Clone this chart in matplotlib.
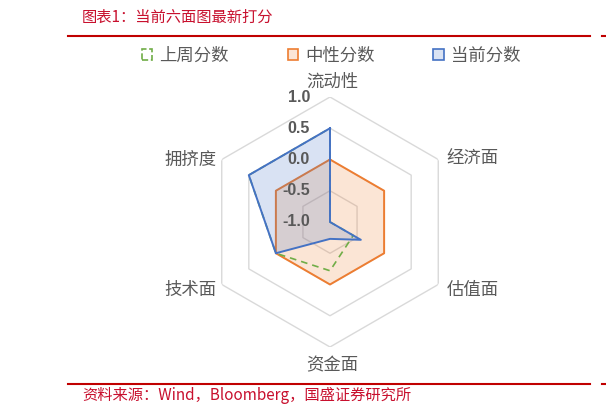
import numpy as np
import matplotlib
matplotlib.use('Agg')
import matplotlib.pyplot as plt
from matplotlib.patches import Patch
from matplotlib.lines import Line2D

plt.rcParams['font.family'] = ['Noto Sans CJK SC', 'DejaVu Sans']

# data
categories = ['流动性', '经济面', '估值面', '资金面', '技术面', '拥挤度']
last_week = [0.5, -1.0, -0.57, -0.22, 0.0, 0.5]
neutral = [0.0, 0.0, 0.0, 0.0, 0.0, 0.0]
current = [0.5, -1.0, -0.43, -0.73, 0.0, 0.5]
r_ticks = [-1.0, -0.5, 0.0, 0.5, 1.0]
series_names = ['上周分数', '中性分数', '当前分数']

W, H = 606, 416
fig = plt.figure(figsize=(W / 100, H / 100), dpi=100)

# polar axes: centre (330, 222) px, outer radius 125 px
cx, cy, rad = 330, 222, 125
ax = fig.add_axes([(cx - rad) / W, 1 - (cy + rad) / H, 2 * rad / W, 2 * rad / H],
                  projection='polar')
ax.set_theta_offset(np.pi / 2)
ax.set_theta_direction(-1)
ax.set_ylim(-1, 1)
ax.set_xticks([])
ax.set_yticks([])
ax.grid(False)
ax.spines['polar'].set_visible(False)
ax.patch.set_alpha(0)

n = len(categories)
ang = np.linspace(0, 2 * np.pi, n, endpoint=False)
ang_c = np.append(ang, ang[0])

def close(v):
    return np.append(v, v[0])

# hexagon grid
for t in r_ticks[1:]:
    ax.plot(ang_c, [t] * (n + 1), color='#D9D9D9', lw=1.0, zorder=1)

orange = '#ED7D31'
blue = '#4472C4'
green = '#70AD47'

ax.fill(ang_c, close(neutral), color=orange, alpha=0.2, lw=0, zorder=2)
ax.plot(ang_c, close(neutral), color=orange, lw=1.4, zorder=3)
ax.plot(ang_c, close(last_week), color=green, lw=1.2, ls=(0, (4, 3)), zorder=4)
ax.fill(ang_c, close(current), color=blue, alpha=0.2, lw=0, zorder=5)
ax.plot(ang_c, close(current), color=blue, lw=1.4, zorder=6)

# radial tick labels
for t in r_ticks:
    ax.annotate(f'{t:.1f}', xy=(0, t), xytext=(-20, 0), textcoords='offset pixels',
                ha='right', va='center', fontsize=11.5, fontweight='bold',
                family='Liberation Sans', color='#595959', zorder=7)

# category labels
offsets = [(2, 15, 'center'), (8, 1, 'left'), (8, -5, 'left'),
           (2, -18, 'center'), (-5, -5, 'right'), (-5, 0, 'right')]
for a, lab, (dx, dy, ha) in zip(ang, categories, offsets):
    ax.annotate(lab, xy=(a, 1.0), xytext=(dx, dy), textcoords='offset pixels',
                ha=ha, va='center', fontsize=12.5, color='#595959')

# legend
handles = [
    Patch(facecolor='white', edgecolor=green, linestyle='--', lw=1.2),
    Patch(facecolor='#FBE5D6', edgecolor=orange, lw=1.2),
    Patch(facecolor='#DAE3F3', edgecolor=blue, lw=1.2),
]
fig.legend(handles, series_names, loc='center', bbox_to_anchor=(331 / W, 1 - 56 / H),
           ncol=3, frameon=False, fontsize=12.5, handlelength=0.6, handleheight=0.6,
           handletextpad=0.4, columnspacing=3.4, labelcolor='#595959')

# title, source and red rules
red = '#C00000'
fig.text(81.7 / W, 1 - 17 / H, '图表1：当前六面图最新打分', fontsize=11,
         color='#C8102E', style='italic', ha='left', va='center')
fig.text(82.7 / W, 1 - 395 / H, '资料来源：Wind，Bloomberg，国盛证券研究所', fontsize=11,
         color='#C8102E', style='italic', ha='left', va='center')
for yy in (35.7, 384.3):
    fig.add_artist(Line2D([68.3 / W, 590 / W], [1 - yy / H, 1 - yy / H], color=red, lw=1.5))
    fig.add_artist(Line2D([601.7 / W, 1.0], [1 - yy / H, 1 - yy / H], color=red, lw=1.5))

fig.savefig('out.png', dpi=100)
